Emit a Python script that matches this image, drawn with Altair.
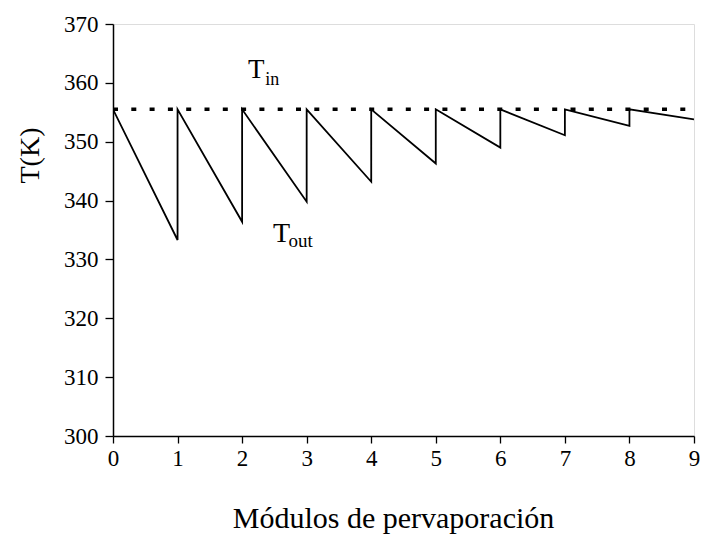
import altair as alt
import pandas as pd

# ---- data ----
modules = [0, 1, 2, 3, 4, 5, 6, 7, 8, 9]
t_in = 355.5
t_out_min = [333.3, 336.4, 339.8, 343.2, 346.3, 349.0, 351.1, 352.7, 353.8]  # at modules 1..9

y_ticks = [300, 305, 310, 315, 320, 325, 330, 335, 340, 345, 350, 355, 360, 365, 370]
x_ticks = modules

# labels (text, x, y, size)
label_text = ["T", "in", "T", "out"]
label_x = [2.09, 2.36, 2.48, 2.72]
label_y = [360.85, 359.7, 332.95, 332.1]
label_size = [27, 18, 28, 19]

# ---- build tables ----
rows = [{"m": 0, "t": t_in, "o": 0}]
o = 1
for i, v in enumerate(t_out_min):
    m = modules[i + 1]
    rows.append({"m": m, "t": v, "o": o}); o += 1
    if m != modules[-1]:
        rows.append({"m": m, "t": t_in, "o": o}); o += 1
saw = pd.DataFrame(rows)
tin_df = pd.DataFrame({"m": [modules[0], modules[-1]], "t": [t_in, t_in]})
labels = pd.DataFrame({"txt": label_text, "m": label_x, "t": label_y, "s": label_size})

FONT = "Liberation Serif"

x_scale = alt.Scale(domain=[0, 9], nice=False, zero=False)
y_scale = alt.Scale(domain=[300, 370], nice=False, zero=False)

x_axis = alt.Axis(
    values=x_ticks, format="d", title="Módulos de pervaporación", grid=False,
    tickSize=7, tickColor="black", tickWidth=1.3, domainColor="black", domainWidth=1.5,
    labelFont=FONT, labelFontSize=23, labelColor="black", labelPadding=4, labelFlush=False,
    titleFont=FONT, titleFontSize=30, titleFontWeight="normal", titleColor="black",
    titleX=280, titleY=91, titleBaseline="alphabetic", titleAnchor="start", titleAlign="center",
)
y_axis = alt.Axis(
    values=y_ticks, format="d", title="T(K)", grid=False,
    tickSize={"condition": {"test": "datum.value % 10 === 0", "value": 8}, "value": 5},
    labelExpr="datum.value % 10 === 0 ? datum.label : ''",
    tickColor="black", tickWidth=1.3, domainColor="black", domainWidth=1.5,
    labelFont=FONT, labelFontSize=23, labelColor="black", labelPadding=7, labelFlush=False,
    titleFont=FONT, titleFontSize=28, titleFontWeight="normal", titleColor="black",
    titleAngle=270, titleX=-83, titleY=131, titleAlign="center", titleBaseline="middle",
)

base_x = alt.X("m:Q", scale=x_scale, axis=x_axis)
base_y = alt.Y("t:Q", scale=y_scale, axis=y_axis)

saw_line = alt.Chart(saw).mark_line(color="black", strokeWidth=1.8, clip=True).encode(
    x=base_x, y=base_y, order="o:Q"
)
tin_line = alt.Chart(tin_df).mark_line(
    color="black", strokeWidth=3.5, strokeDash=[5, 13.3], clip=True
).encode(x=alt.X("m:Q", scale=x_scale), y=alt.Y("t:Q", scale=y_scale))

text = alt.Chart(labels).mark_text(
    align="left", baseline="alphabetic", font=FONT, color="black"
).encode(
    x=alt.X("m:Q", scale=x_scale),
    y=alt.Y("t:Q", scale=y_scale),
    text="txt:N",
    size=alt.Size("s:Q", scale=None, legend=None),
)

chart = alt.layer(tin_line, saw_line, text).properties(
    width=581, height=412,
    autosize=alt.AutoSizeParams(type="none"),
    padding={"left": 105, "top": 16, "right": 6, "bottom": 98},
).configure_view(stroke="black", strokeWidth=1.5).configure(background="white")

chart.save("out.html", embed_options={"renderer": "svg", "actions": False})
